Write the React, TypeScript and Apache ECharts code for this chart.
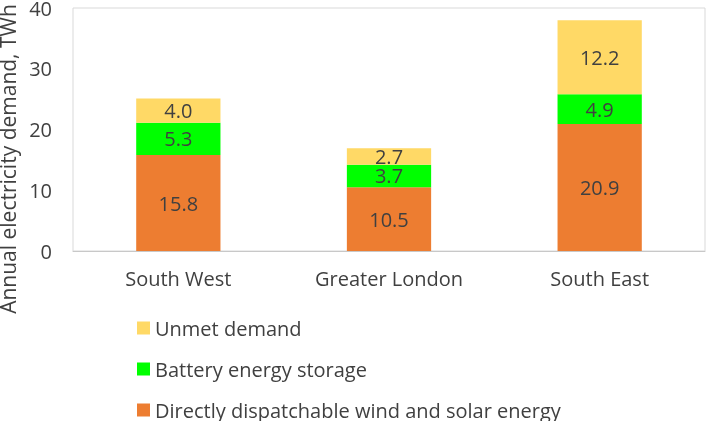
import React, { useEffect, useRef } from "react";
import * as echarts from "echarts";

const categories = ["South West", "Greater London", "South East"];
const directWindSolar = [15.8, 10.5, 20.9];
const batteryStorage = [5.3, 3.7, 4.9];
const unmetDemand = [4.0, 2.7, 12.2];
const yTicks = { min: 0, max: 40, interval: 10 };
const seriesNames = [
  "Directly dispatchable wind and solar energy",
  "Battery energy storage",
  "Unmet demand",
];
const yTitle = "Annual electricity demand, TWh";

const FONT = "Open Sans";
const FS = 20;

export default function App() {
  const ref = useRef<HTMLDivElement>(null);
  useEffect(() => {
    if (!ref.current) return;
    const chart = echarts.init(ref.current, null, { renderer: "svg" });
    const label = {
      show: true,
      position: "inside",
      color: "#404040",
      fontSize: FS,
      fontFamily: FONT,
      formatter: (p: any) => Number(p.value).toFixed(1),
    };
    const colors = ["#ED7D31", "#00FF00", "#FFD966"];
    const data = [directWindSolar, batteryStorage, unmetDemand];
    chart.setOption({
      animation: false,
      textStyle: { fontFamily: FONT },
      grid: {
        left: 73,
        right: 1,
        top: 8,
        bottom: 170,
        show: true,
        borderColor: "#d9d9d9",
        borderWidth: 1,
        outerBoundsMode: "none",
      },
      legend: {
        orient: "vertical",
        left: 137,
        top: 318,
        padding: 0,
        height: 120,
        itemWidth: 13,
        itemHeight: 13,
        itemGap: 21,
        icon: "rect",
        data: [seriesNames[2], seriesNames[1], seriesNames[0]],
        textStyle: { color: "#404040", fontSize: FS, fontFamily: FONT },
      },
      graphic: [
        {
          type: "text",
          x: 8,
          y: 159,
          rotation: Math.PI / 2,
          style: {
            text: yTitle,
            fill: "#404040",
            fontSize: 21,
            fontFamily: FONT,
            align: "center",
            verticalAlign: "middle",
          },
        },
      ],
      xAxis: {
        type: "category",
        data: categories,
        axisLine: { lineStyle: { color: "#c8c8c8", width: 1 } },
        axisTick: { show: false },
        axisLabel: { color: "#404040", fontSize: FS, fontFamily: FONT, margin: 17 },
      },
      yAxis: {
        type: "value",
        min: yTicks.min,
        max: yTicks.max,
        interval: yTicks.interval,
        splitLine: { show: false },
        axisLine: { show: false },
        axisTick: { show: false },
        axisLabel: { color: "#404040", fontSize: FS, fontFamily: FONT, margin: 21 },
      },
      series: seriesNames.map((name, i) => ({
        name,
        type: "bar",
        stack: "total",
        barWidth: "40%",
        itemStyle: { color: colors[i] },
        label,
        data: data[i],
      })),
    });
    return () => chart.dispose();
  }, []);
  return (
    <div
      ref={ref}
      style={{ position: "fixed", left: 0, top: 0, width: 706, height: 421 }}
    />
  );
}
